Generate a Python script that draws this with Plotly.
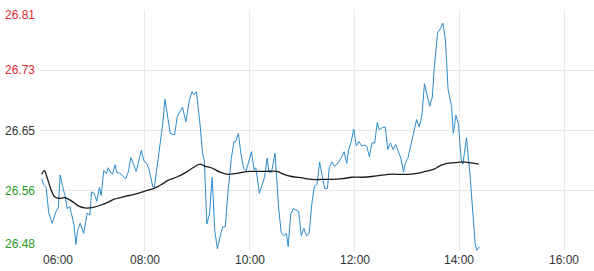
import pandas as pd
import plotly.graph_objects as go

# ---- data (minutes after 06:00, price) ----
price_minutes = [2, 4, 7, 10, 14, 18, 21, 23, 26, 29, 31, 34, 36, 39, 41, 43, 46, 50, 54, 57,
                 59, 62, 65, 68, 70, 73, 76, 78, 81, 83, 86, 88, 91, 95, 98, 101, 104, 107, 110, 112,
                 116, 119, 122, 125, 129, 131, 134, 137, 140, 143, 147, 149, 154, 157, 163, 167, 171, 174, 176, 179,
                 183, 186, 188, 191, 194, 197, 200, 203, 207, 209, 212, 215, 219, 222, 224, 227, 230, 233, 236, 239,
                 242, 245, 247, 251, 254, 257, 260, 262, 265, 269, 271, 273, 276, 279, 282, 284, 287, 290, 293, 296,
                 299, 302, 305, 308, 311, 314, 317, 320, 323, 326, 329, 331, 334, 337, 340, 343, 346, 348, 351, 353,
                 356, 359, 362, 365, 368, 371, 374, 377, 380, 383, 386, 388, 392, 395, 398, 401, 404, 407, 410, 413,
                 416, 418, 421, 425, 428, 431, 434, 437, 440, 443, 446, 449, 451, 455, 458, 461, 464, 467, 471, 473,
                 476, 479, 482, 484, 488, 492, 495, 498, 500, 503]
price_values = [26.579, 26.571, 26.567, 26.532, 26.518, 26.533, 26.540, 26.584, 26.568, 26.554,
                26.538, 26.541, 26.531, 26.515, 26.489, 26.508, 26.518, 26.504, 26.532, 26.529,
                26.561, 26.559, 26.548, 26.567, 26.556, 26.590, 26.586, 26.594, 26.587, 26.585,
                26.598, 26.587, 26.587, 26.583, 26.579, 26.588, 26.608, 26.599, 26.589, 26.598,
                26.618, 26.603, 26.600, 26.591, 26.568, 26.568, 26.595, 26.616, 26.650, 26.688,
                26.655, 26.641, 26.639, 26.664, 26.677, 26.657, 26.687, 26.698, 26.694, 26.698,
                26.655, 26.614, 26.604, 26.517, 26.531, 26.581, 26.508, 26.483, 26.504, 26.513,
                26.513, 26.559, 26.607, 26.630, 26.630, 26.641, 26.613, 26.593, 26.590, 26.602,
                26.616, 26.591, 26.594, 26.559, 26.569, 26.581, 26.607, 26.588, 26.588, 26.614,
                26.577, 26.540, 26.506, 26.501, 26.504, 26.486, 26.531, 26.538, 26.536, 26.534,
                26.501, 26.511, 26.501, 26.504, 26.544, 26.569, 26.571, 26.602, 26.582, 26.565,
                26.566, 26.594, 26.602, 26.596, 26.599, 26.604, 26.610, 26.616, 26.600, 26.618,
                26.629, 26.647, 26.624, 26.630, 26.624, 26.625, 26.623, 26.609, 26.628, 26.628,
                26.656, 26.646, 26.649, 26.650, 26.619, 26.628, 26.619, 26.626, 26.616, 26.607,
                26.588, 26.600, 26.607, 26.627, 26.643, 26.660, 26.650, 26.665, 26.709, 26.691,
                26.678, 26.691, 26.728, 26.779, 26.784, 26.792, 26.769, 26.701, 26.678, 26.641,
                26.666, 26.653, 26.605, 26.599, 26.635, 26.586, 26.540, 26.490, 26.481, 26.486]

avg_minutes = [2, 5, 8, 13, 17, 22, 28, 34, 39, 45, 51, 57, 62, 70, 78, 85, 95, 102, 112, 120,
               129, 133, 139, 147, 156, 166, 175, 183, 189, 196, 206, 215, 223, 233, 240, 257, 271, 279, 288, 300,
               311, 323, 334, 346, 357, 369, 380, 399, 418, 430, 441, 451, 458, 466, 475, 485, 491, 497, 502]
avg_values = [26.585, 26.590, 26.581, 26.563, 26.554, 26.552, 26.553, 26.550, 26.546, 26.541,
              26.539, 26.539, 26.540, 26.543, 26.547, 26.551, 26.554, 26.556, 26.559, 26.562,
              26.565, 26.567, 26.571, 26.577, 26.581, 26.587, 26.594, 26.599, 26.596, 26.594,
              26.588, 26.585, 26.586, 26.588, 26.589, 26.589, 26.589, 26.585, 26.582, 26.580,
              26.578, 26.578, 26.578, 26.579, 26.581, 26.581, 26.582, 26.585, 26.585, 26.586,
              26.589, 26.592, 26.597, 26.600, 26.601, 26.602, 26.601, 26.600, 26.599]

prev_close = 26.645
y_tick_values = [26.48, 26.5625, 26.645, 26.7275, 26.81]
y_tick_labels = ["26.48", "26.56", "26.65", "26.73", "26.81"]
y_tick_colors = ["#1e9c1e", "#1e9c1e", "#333333", "#e0282c", "#e0282c"]
x_tick_labels = ["06:00", "08:00", "10:00", "12:00", "14:00", "16:00"]

base = pd.Timestamp("2024-01-02 06:00")
def to_time(mins):
    return [base + pd.Timedelta(minutes=m) for m in mins]

x_tick_times = [base + pd.Timedelta(hours=2 * i) for i in range(len(x_tick_labels))]
x_end = base + pd.Timedelta(minutes=634)

fig = go.Figure()
fig.add_trace(go.Scatter(x=to_time(price_minutes), y=price_values, mode="lines",
                         line=dict(color="#2e8bcc", width=1), hoverinfo="skip"))
fig.add_trace(go.Scatter(x=to_time(avg_minutes), y=avg_values, mode="lines",
                         line=dict(color="#1a1a1a", width=1.3, shape="spline", smoothing=1),
                         hoverinfo="skip"))

fig.add_shape(type="line", xref="paper", x0=0, x1=1, yref="y", y0=prev_close, y1=prev_close,
              line=dict(color="#999999", width=1, dash="5px,4px"), layer="below")

font_family = "Liberation Sans, Arial, sans-serif"
for val, lab, col in zip(y_tick_values, y_tick_labels, y_tick_colors):
    shift = 0
    if val == y_tick_values[-1]:
        shift = -5
    elif val == y_tick_values[0]:
        shift = 7
    fig.add_annotation(x=0, xref="paper", y=val, yref="y", text=lab, showarrow=False,
                       xanchor="right", yanchor="middle", xshift=-3, yshift=shift,
                       font=dict(family=font_family, size=12, color=col))

for i, (t, lab) in enumerate(zip(x_tick_times, x_tick_labels)):
    fig.add_annotation(x=t, xref="x", y=0, yref="paper", text=lab, showarrow=False,
                       xanchor="left" if i == 0 else "center", yanchor="top", yshift=0,
                       xshift=1 if i == 0 else 0,
                       font=dict(family=font_family, size=12, color="#333333"))

fig.update_layout(
    width=594, height=271,
    margin=dict(l=40, r=0, t=10, b=20),
    paper_bgcolor="white", plot_bgcolor="white",
    showlegend=False,
    font=dict(family=font_family, size=12, color="#333333"),
    xaxis=dict(type="date", range=[base, x_end], tickvals=x_tick_times[1:],
               showticklabels=False, showgrid=True, gridcolor="#e8e8e8", gridwidth=1,
               zeroline=False, showline=False, fixedrange=True),
    yaxis=dict(range=[y_tick_values[0], y_tick_values[-1]], tickvals=y_tick_values,
               showticklabels=False, showgrid=True, gridcolor="#e8e8e8", gridwidth=1,
               zeroline=False, showline=False, fixedrange=True),
)

fig.write_html("out.html", config={"displayModeBar": False})
